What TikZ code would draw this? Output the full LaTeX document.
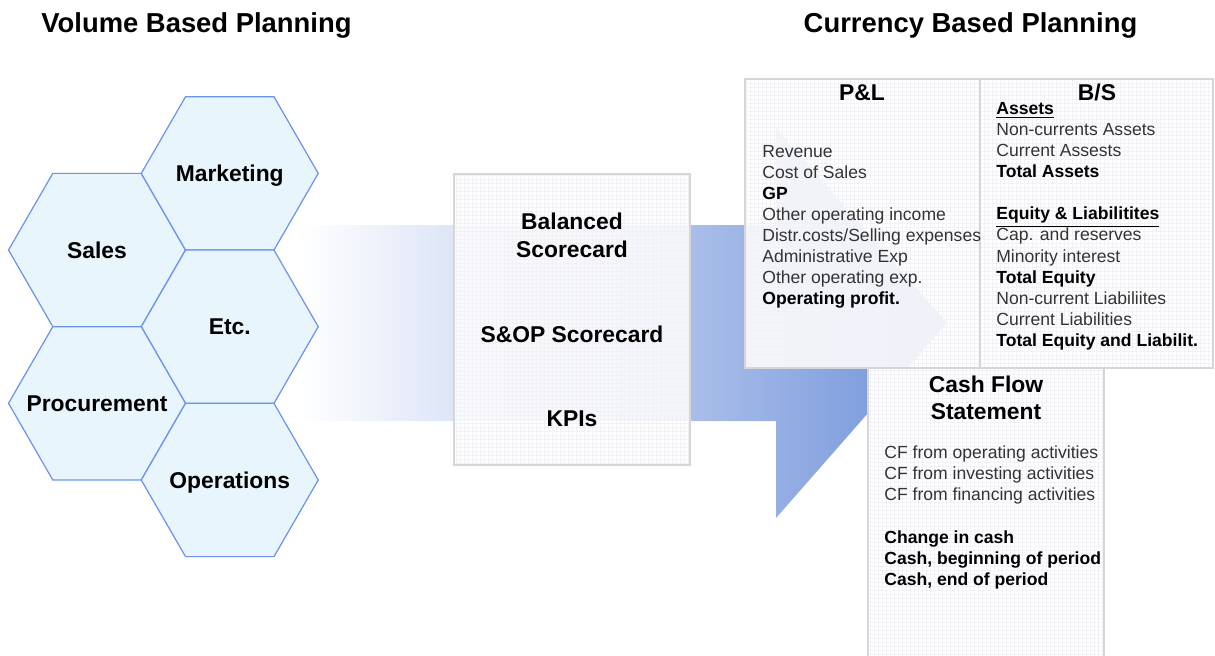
\documentclass[tikz,border=0pt]{standalone}
\usepackage{fontspec}
\setmainfont{Liberation Sans}
\usetikzlibrary{shapes.geometric}

\definecolor{hexfill}{RGB}{232,245,253}
\definecolor{hexline}{RGB}{108,148,238}
\definecolor{arrowmid}{RGB}{200,212,238}
\definecolor{arrowend}{RGB}{112,146,218}
\definecolor{boxline}{RGB}{214,214,214}
\definecolor{gridgray}{RGB}{242,242,246}
\definecolor{itemgray}{RGB}{51,51,51}

\newcommand{\itembold}[1]{{\color{black}\bfseries #1}}

\tikzset{
  hexcell/.style={regular polygon, regular polygon sides=6, minimum size=3.54cm,
    inner sep=0pt, draw=hexline, fill=hexfill, line width=0.7pt,
    text height=9.4pt, text depth=0pt,
    font=\fontsize{13}{15}\selectfont\bfseries,
    execute at begin node={\hbox to 0pt\bgroup\hss},
    execute at end node={\hss\egroup}},
  panel/.style={draw=boxline, line width=0.8pt, fill=white, inner sep=0pt,
    path picture={\draw[gridgray, line width=0.25pt, step=0.08cm]
      (path picture bounding box.south west) grid (path picture bounding box.north east);}},
  title/.style={anchor=base, font=\fontsize{15.6}{18}\selectfont\bfseries},
  head/.style={align=center, font=\fontsize{13}{15.4}\selectfont\bfseries},
  card/.style={align=center, font=\fontsize{13}{16}\selectfont\bfseries},
  item/.style={anchor=base west, inner sep=0pt, text=itemgray,
    font=\fontsize{10}{12}\selectfont},
}

\begin{document}
\begin{tikzpicture}[x=0.02cm, y=-0.02cm]
  \clip (0,0) rectangle (1215,656);

  % the broad arrow from volume to currency planning
  \shade[left color=white, middle color=arrowmid, right color=arrowend]
    (300,225) -- (776,225) -- (776,128) -- (947,323) -- (776,518)
    -- (776,421) -- (300,421) -- cycle;

  % volume based planning
  \node[hexcell] (sales) at (97,250) {Sales};
  \node[hexcell] (marketing) at (229.75,173.4) {Marketing};
  \node[hexcell] (etc) at (229.75,326.7) {Etc.};
  \node[hexcell] (procurement) at (97,403.3) {Procurement};
  \node[hexcell] (operations) at (229.75,480) {Operations};

  % scorecards
  \node[panel, fill opacity=0.85, minimum width=4.72cm, minimum height=5.82cm]
    (scorebox) at (572,319.5) {};
  \node[card] (balanced) at (572,235) {Balanced\\Scorecard};
  \node[card] (sop) at (572,334) {S\&OP Scorecard};
  \node[card] (kpis) at (572,419) {KPIs};

  % currency based planning
  \node[panel, fill opacity=0.88, minimum width=4.7cm, minimum height=5.78cm]
    (plbox) at (862.5,223.5) {};
  \node[panel, fill opacity=0.88, minimum width=4.66cm, minimum height=5.78cm]
    (bsbox) at (1096.5,223.5) {};
  \node[panel, minimum width=4.72cm, minimum height=5.84cm]
    (cfbox) at (986,514) {};

  \node[title] (volume) at (196.5,32) {Volume Based Planning};
  \node[title] (currency) at (970.5,32) {Currency Based Planning};

  \node[head] (pl) at (862,93) {P\&L};
  \node[head] (bs) at (1097,92) {B/S};
  \node[head] (cf) at (986,398) {Cash Flow\\Statement};

  \foreach \k/\t in {0/Revenue, 1/Cost of Sales, 2/\itembold{GP},
      3/Other operating income, 4/{Distr.costs/Selling expenses},
      5/Administrative Exp, 6/Other operating exp., 7/\itembold{Operating profit.}}
    \node[item] (pl\k) at (762,157.3+21*\k) {\t};

  \foreach \k/\t in {0/\itembold{\underline{Assets}}, 1/Non-currents Assets,
      2/Current Assests, 3/\itembold{Total Assets},
      5/\itembold{\underline{Equity \& Liabilitites}}, 6/Cap. and reserves,
      7/Minority interest, 8/\itembold{Total Equity}, 9/Non-current Liabiliites,
      10/Current Liabilities, 11/\itembold{Total Equity and Liabilit.}}
    \node[item] (bs\k) at (996,114.3+21.1*\k) {\t};

  \foreach \k/\t in {0/CF from operating activities, 1/CF from investing activities,
      2/CF from financing activities, 4/\itembold{Change in cash},
      5/\itembold{{Cash, beginning of period}}, 6/\itembold{{Cash, end of period}}}
    \node[item] (cf\k) at (884,458.3+21.2*\k) {\t};
\end{tikzpicture}
\end{document}
